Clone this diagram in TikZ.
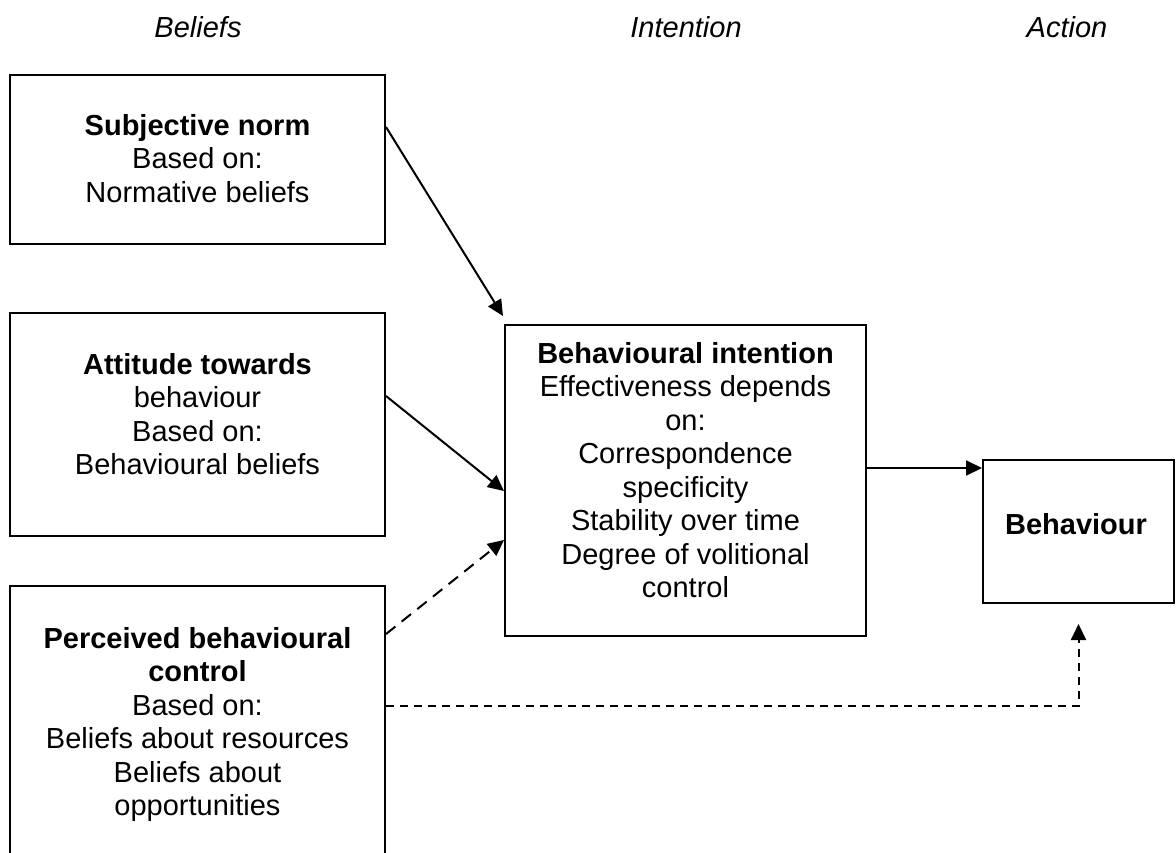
\documentclass[tikz,border=0pt]{standalone}
\usepackage{fontspec}
\setmainfont{Liberation Sans}
\usetikzlibrary{positioning,arrows.meta}

\begin{document}
\begin{tikzpicture}[x=0.5pt, y=-0.5pt, font=\fontsize{14.5pt}{16.75pt}\selectfont,
    box/.style={draw, line width=1pt, inner sep=0pt},
    txt/.style={align=center, inner sep=0pt, anchor=north},
    arr/.style={-{Triangle[length=8pt, width=7.5pt]}, line width=1pt},
    dashlong/.style={dash pattern=on 6pt off 4pt},
    dashshort/.style={dash pattern=on 4pt off 3pt}]
    \clip (0,0) rectangle (1176,852);
    \foreach \x/\name in {198/Beliefs,686/Intention,1067/Action}{\node (h\name) at (\x,27) {\itshape\name};}
    % boxes
    \node[box, minimum width=187.5pt, minimum height=84.5pt] (sn) at (197.5,159.5) {};
    \node[box, minimum width=187.5pt, minimum height=111.5pt] (att) at (197.5,424.5) {};
    \node[box, minimum width=187.5pt, minimum height=142pt] (pbc) at (197.5,728) {};
    \node[box, minimum width=180.5pt, minimum height=155.5pt] (bi) at (685.5,480.5) {};
    \node[box, minimum width=95.5pt, minimum height=71.5pt] (beh) at (1078.5,531.5) {};
    % texts
    \node[txt] (snt) at (197.5,114) {\textbf{Subjective norm}\\Based on:\\Normative beliefs};
    \node[txt] (attt) at (197.5,353) {\textbf{Attitude towards}\\behaviour\\Based on:\\Behavioural beliefs};
    \node[txt] (pbct) at (197.5,627) {\textbf{Perceived behavioural}\\\textbf{control}\\Based on:\\Beliefs about resources\\Beliefs about\\opportunities};
    \node[txt] (bit) at (685.5,342) {\textbf{Behavioural intention}\\Effectiveness depends\\on:\\Correspondence\\specificity\\Stability over time\\Degree of volitional\\control};
    \node[txt] (beht) at (1076,513) {\textbf{Behaviour}};
    % arrows
    \draw[arr] ([yshift=16.25pt]sn.east) -- ([shift={(-0.5pt,4pt)}]bi.north west);
    \draw[arr] ([yshift=14.25pt]att.east) -- ([yshift=-5.25pt]bi.west);
    \draw[arr, dashlong] ([yshift=-24.5pt]pbc.north east) -- ([yshift=-29.75pt]bi.west);
    \draw[arr] ([yshift=6.25pt]bi.east) -- ([yshift=6.25pt]bi.east -| beh.west);
    \draw[arr, dashshort] ([yshift=-60.5pt]pbc.north east) -| ([yshift=-10pt]beh.south);
\end{tikzpicture}
\end{document}
